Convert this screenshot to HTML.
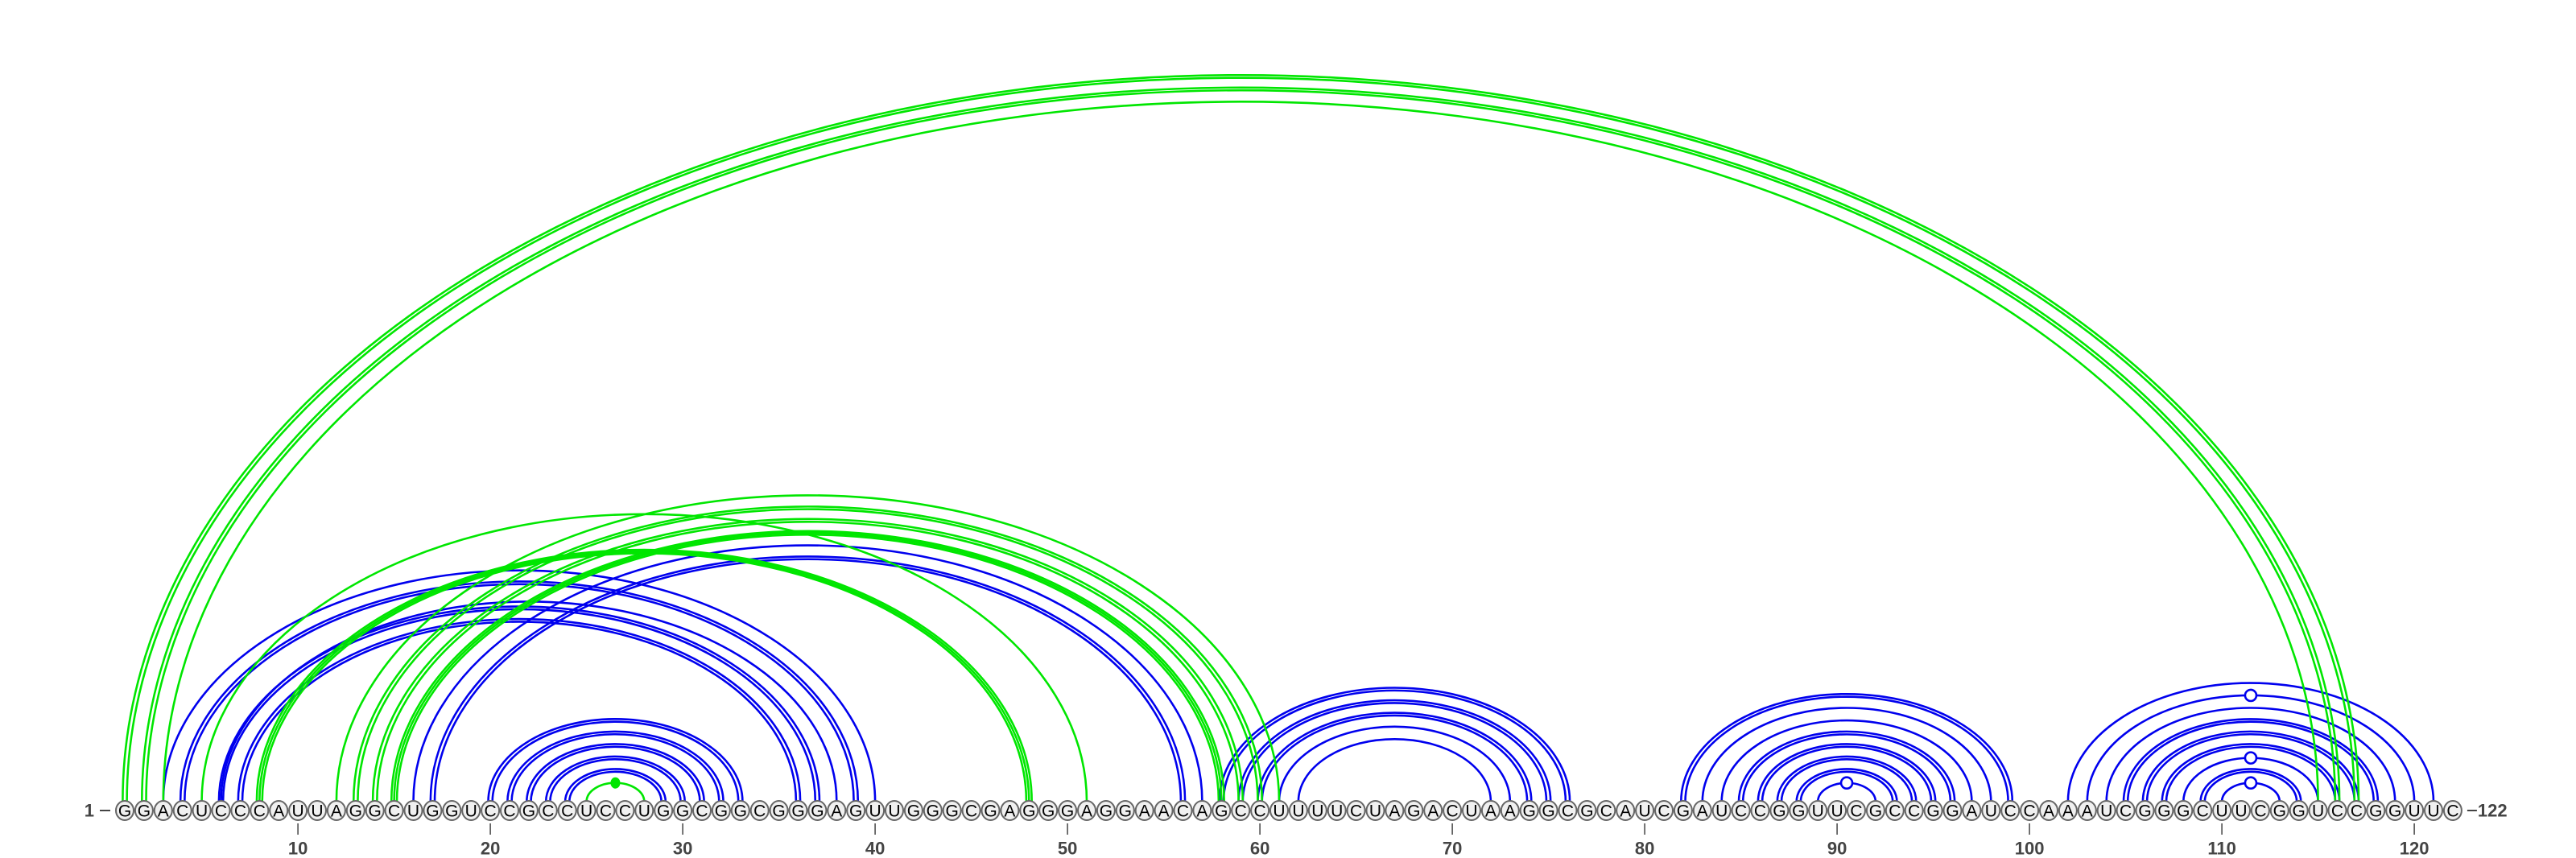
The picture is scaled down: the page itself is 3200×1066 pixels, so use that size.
<!DOCTYPE html>
<html><head><meta charset="utf-8">
<style>
html,body{margin:0;padding:0;background:#fff;}
svg{display:block;}
.nt{font-family:"Liberation Sans",sans-serif;font-size:21px;fill:#000;text-anchor:middle;dominant-baseline:central;}
.lbl{font-family:"Liberation Sans",sans-serif;font-size:22px;font-weight:bold;fill:#444;dominant-baseline:central;}
</style></head>
<body>
<svg id="chart" width="3200" height="1066" viewBox="0 0 3200 1066" xmlns="http://www.w3.org/2000/svg">
<g id="arcs"></g>
<g id="bases"></g>
<g id="ticks"></g>
</svg>
<script>
const sequence = "GGACUCCCAUUAGGCUGGUCCGCCUCCUGGCGGCGGGAGUUGGGCGAGGGAGGAACAGCCUUUUCUAGACUAAGGCGCAUCGAUCCGGUUCGCCGGAUCCAAAUCGGGCUUCGGUCCGGUUC";
// pairs: [i, j, strokes]
const bluePairs = [[3,40,1],[4,39,2],[6,38,1],[6,37,2],[7,36,2],[16,57,1],[17,56,2],
 [20,33,2],[21,32,2],[22,31,2],[23,30,2],[24,29,2],
 [58,76,2],[59,75,2],[60,74,2],[61,73,1],[62,72,1],
 [82,99,2],[83,98,1],[84,97,1],[85,96,2],[86,95,2],[87,94,2],[88,93,2],[89,92,1],
 [102,121,1],[103,120,1],[104,119,1],[105,118,2],[106,117,2],[107,116,2],[108,115,1],[109,114,2],[110,113,1]];
const greenPairs = [[1,117,2],[2,116,2],[3,115,1],[5,51,1],[8,48,3],[12,61,1],[13,60,2],[14,59,2],[15,58,3],[25,28,1]];
const openMarks = [[89,92],[103,120],[108,115],[110,113]];
const filledMarks = [[25,28]];
const tickPositions = [10,20,30,40,50,60,70,80,90,100,110,120];

const NS = "http://www.w3.org/2000/svg";
const X0 = 155, STEP = 23.9, BASEY = 1007, ARCY = 996, RATIO = 0.65;
const x = i => X0 + (i - 1) * STEP;
const arcsG = document.getElementById('arcs');
const basesG = document.getElementById('bases');
const ticksG = document.getElementById('ticks');

function mk(tag, attrs, parent){
  const e = document.createElementNS(NS, tag);
  for (const k in attrs) e.setAttribute(k, attrs[k]);
  parent.appendChild(e);
  return e;
}
function drawArcs(pairs, color, nm){
  pairs.forEach(p => {
    const n = p[2];
    const offs = n === 1 ? [0] : n === 2 ? [-2.6, 2.6] : [-3.4, 0, 3.4];
    offs.forEach(o => {
      const a = x(p[0]) + o, b = x(p[1]) - o;
      const rx = (b - a) / 2, ry = rx * RATIO;
      const path = mk('path', {d:`M${a},${ARCY} A${rx},${ry} 0 0 1 ${b},${ARCY}`, fill:'none', stroke:color, 'stroke-width':2.6}, arcsG);
      
      
    });
  });
}
drawArcs(bluePairs, '#0000ee', 'blue');
drawArcs(greenPairs, '#00e600', 'green');
openMarks.forEach(m => {
  const cx = (x(m[0]) + x(m[1])) / 2, rx = (x(m[1]) - x(m[0])) / 2;
  const c = mk('circle', {cx:cx, cy:ARCY - rx*RATIO, r:7, fill:'#fff', stroke:'#0000ee', 'stroke-width':2.6}, arcsG);
  
  
});
filledMarks.forEach(m => {
  const cx = (x(m[0]) + x(m[1])) / 2, rx = (x(m[1]) - x(m[0])) / 2;
  const c = mk('ellipse', {cx:cx, cy:ARCY - rx*RATIO, rx:6, ry:7, fill:'#00e600'}, arcsG);
  
  
});
// backbone line
const bl = mk('line', {x1:x(1), x2:x(sequence.length), y1:BASEY, y2:BASEY, stroke:'#666', 'stroke-width':2}, basesG);


for (let i = 1; i <= sequence.length; i++){
  const g = mk('g', {}, basesG);
  
  
  mk('ellipse', {cx:x(i), cy:BASEY, rx:11, ry:12, fill:'#f0f0f0', stroke:'#666', 'stroke-width':2}, g);
  const t = mk('text', {x:x(i), y:BASEY + 1, class:'nt'}, g);
  t.textContent = sequence[i-1];
}
const l1 = mk('text', {x:117, y:BASEY, class:'lbl', 'text-anchor':'end'}, ticksG);
l1.textContent = '1';


mk('line', {x1:124, x2:137, y1:BASEY, y2:BASEY, stroke:'#444', 'stroke-width':2}, ticksG);
mk('line', {x1:x(sequence.length)+18, x2:x(sequence.length)+30, y1:BASEY, y2:BASEY, stroke:'#444', 'stroke-width':2}, ticksG);
const l2 = mk('text', {x:x(sequence.length)+31, y:BASEY, class:'lbl', 'text-anchor':'start'}, ticksG);
l2.textContent = '122';


tickPositions.forEach(p => {
  const tk = mk('line', {x1:x(p), x2:x(p), y1:1023, y2:1037, stroke:'#444', 'stroke-width':1.5}, ticksG);
  
  
  const tl = mk('text', {x:x(p), y:1054, class:'lbl', 'text-anchor':'middle'}, ticksG);
  tl.textContent = String(p);
  
  
});
</script>
</body></html>
